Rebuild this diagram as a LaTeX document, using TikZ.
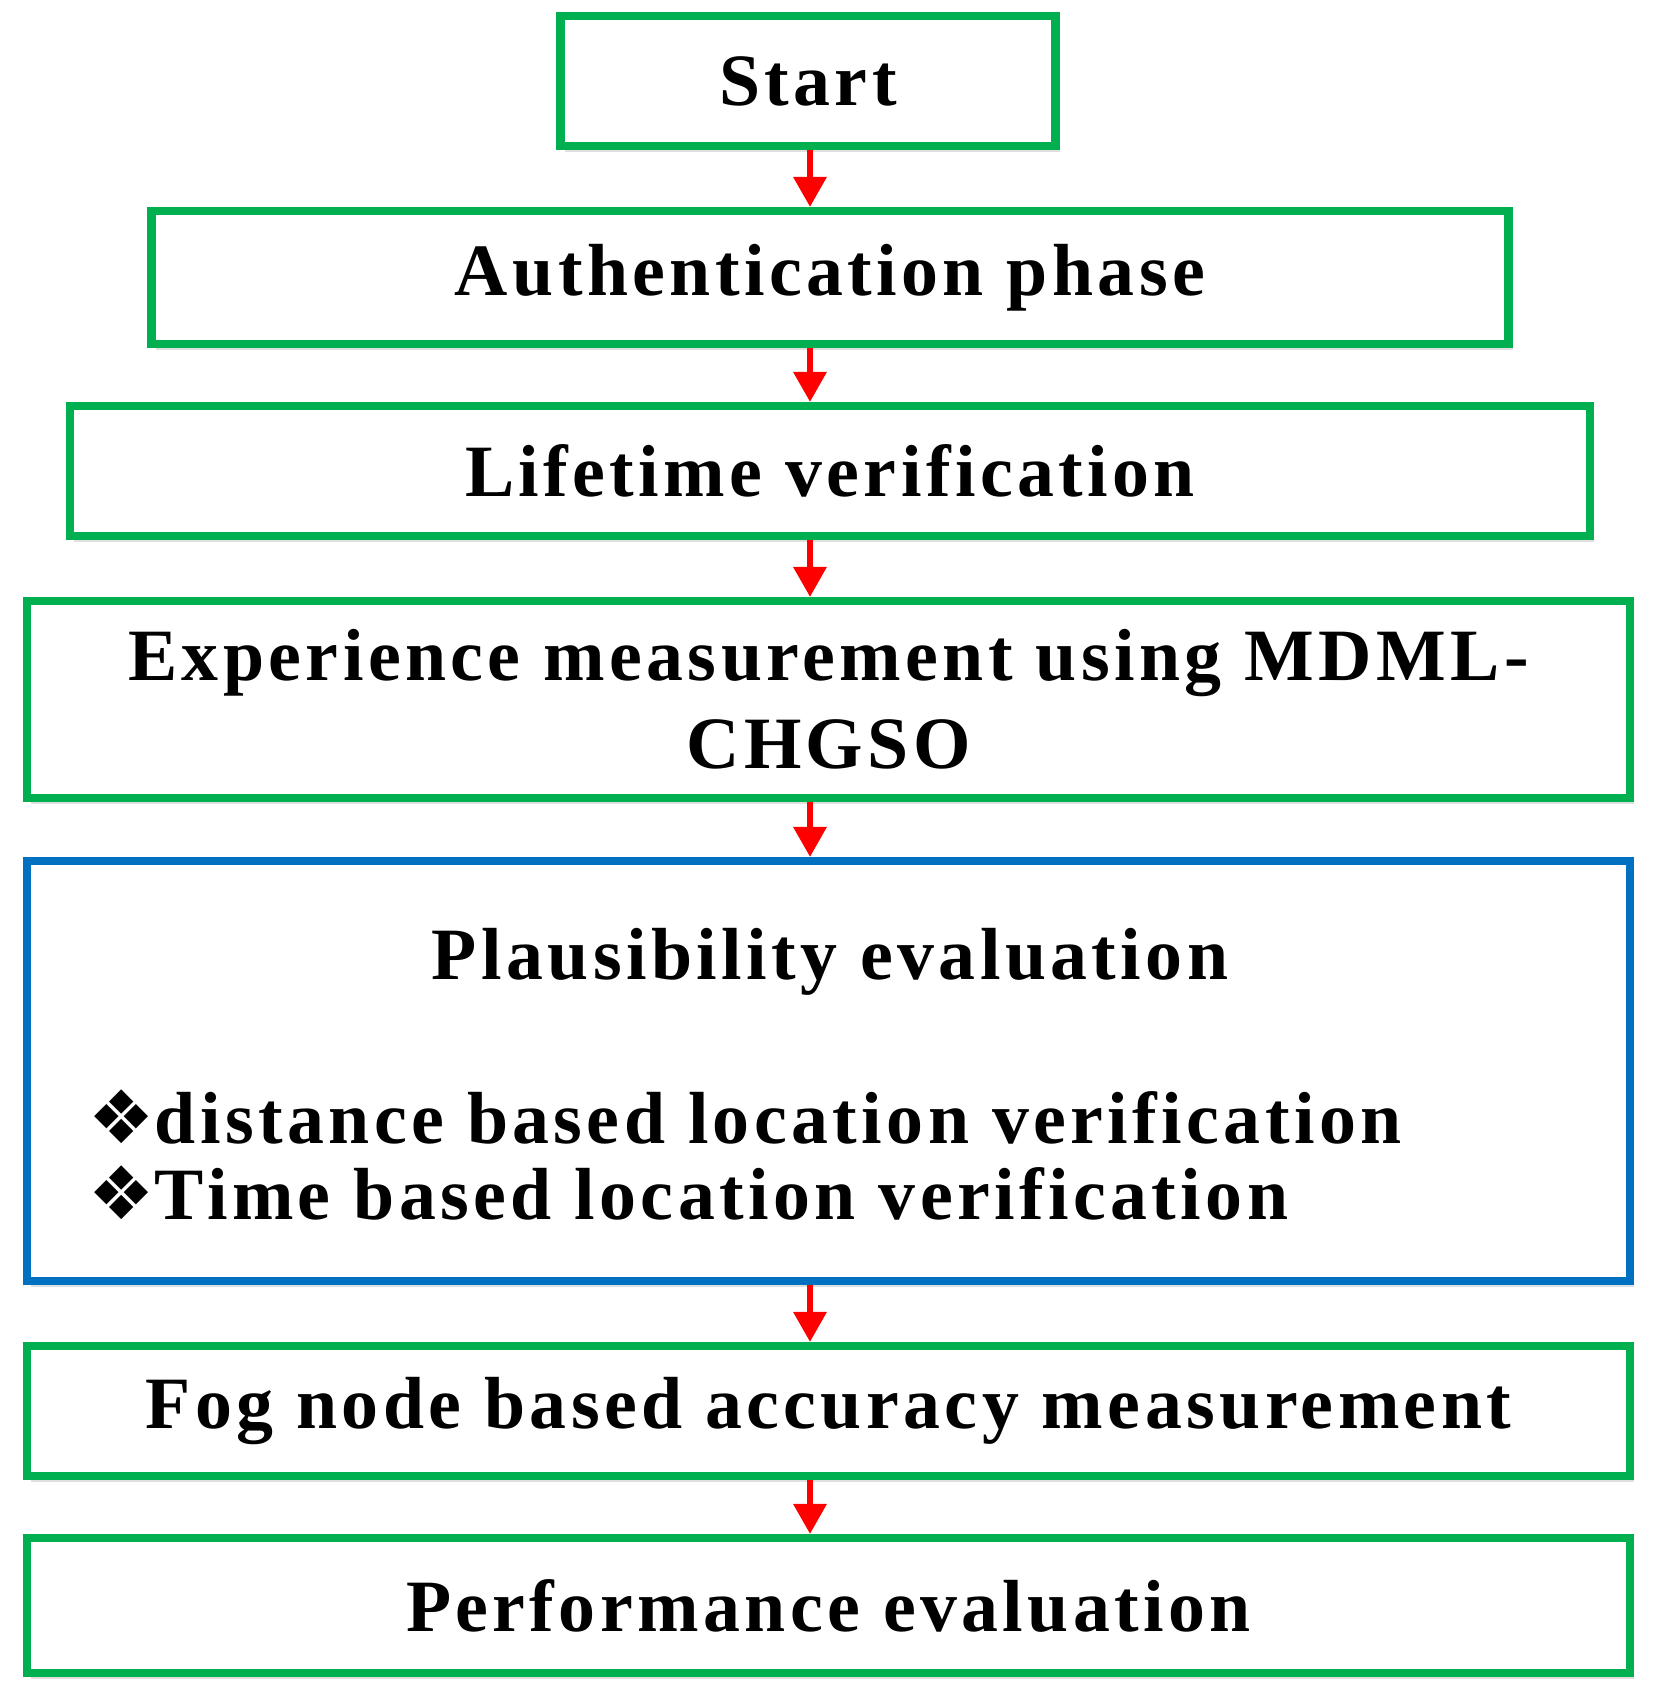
\documentclass[tikz,border=0pt]{standalone}
\usepackage{fontspec}
\setmainfont{Liberation Serif}[LetterSpace=6]
\newfontfamily\symfont{DejaVu Sans}
\usetikzlibrary{shadows,arrows.meta}
\definecolor{boxgreen}{RGB}{0,176,80}
\definecolor{boxblue}{RGB}{0,112,192}
\tikzset{
  stage/.style={draw=boxgreen, line width=2.3pt, fill=white, font=\fontsize{21}{25}\selectfont\bfseries,
    align=center, inner sep=0pt, drop shadow={shadow xshift=0.04cm, shadow yshift=-0.06cm, opacity=0.25}},
  flow/.style={-{Triangle[length=0.3cm,width=0.32cm]}, red, line width=1.8pt},
  txt/.style={font=\fontsize{21}{25}\selectfont\bfseries, inner sep=0pt}
}
\begin{document}
\begin{tikzpicture}
    \useasboundingbox (0,0) rectangle (16.56,-17.03);
    \coordinate (axis) at (8.1,0);
    \node[stage, minimum width=4.95cm, minimum height=1.3cm] (start) at (8.08,-0.81) {Start};
    \node[stage, minimum width=13.57cm, minimum height=1.33cm] (auth) at (8.30,-2.775) {Authentication phase};
    \node[stage, minimum width=15.2cm, minimum height=1.3cm] (life) at (8.30,-4.71) {Lifetime verification};
    \node[stage, minimum width=16.03cm, minimum height=1.97cm] (exp) at (8.285,-6.995)
        {Experience measurement using MDML-\\CHGSO};
    \node[stage, draw=boxblue, minimum width=16.03cm, minimum height=4.2cm] (plaus) at (8.285,-10.71) {};
    \node[txt] (ptitle) at (8.30,-9.62) {Plausibility evaluation};
    \node[txt, anchor=west] (pdist) at (0.88,-11.17) {{\symfont\char"2756}distance based location verification};
    \node[txt, anchor=west] (ptime) at (0.88,-11.93) {{\symfont\char"2756}Time based location verification};
    \node[stage, minimum width=16.03cm, minimum height=1.3cm] (fog) at (8.285,-14.11) {Fog node based accuracy measurement};
    \node[stage, minimum width=16.03cm, minimum height=1.35cm] (perf) at (8.285,-16.055) {Performance evaluation};

    \foreach \a/\b in {start/auth, auth/life, life/exp, exp/plaus, plaus/fog, fog/perf}
    {\draw[flow] (\a.south -| axis) -- (\b.north -| axis);}
\end{tikzpicture}
\end{document}
